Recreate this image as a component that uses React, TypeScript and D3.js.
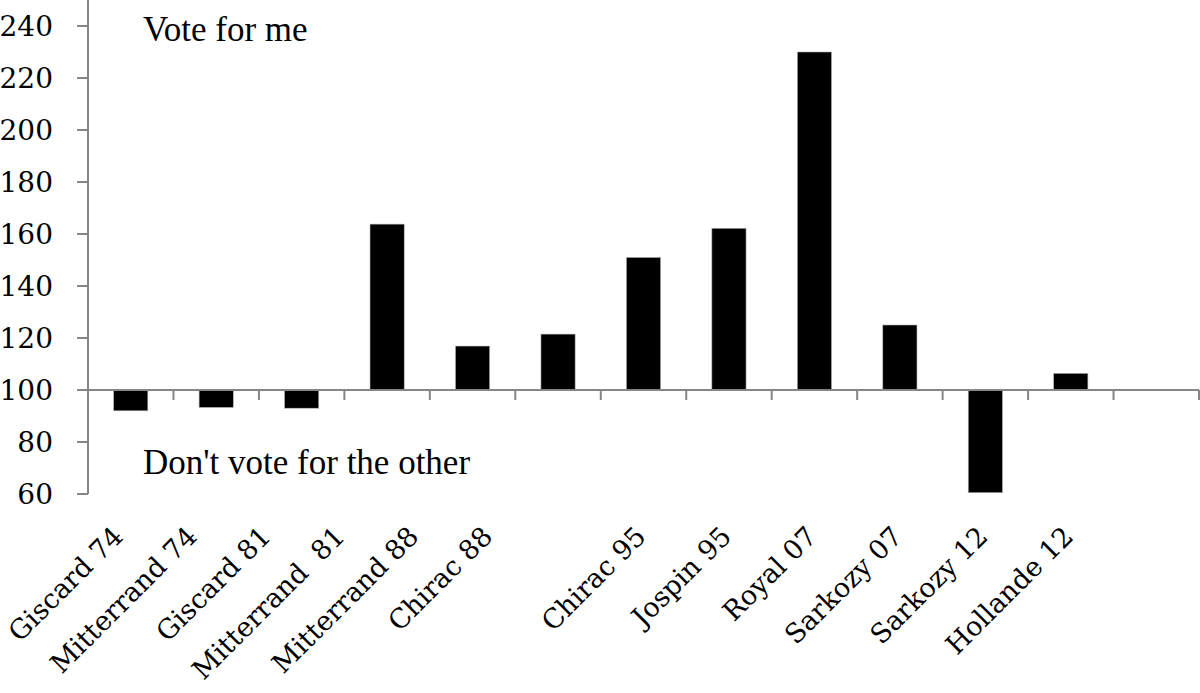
import * as d3 from 'd3';
import React from 'react';

const WIDTH = 1200;
const HEIGHT = 693;

// candidates, with one empty slot at the end of the axis
const candidates = [
  'Giscard 74',
  'Mitterrand 74',
  'Giscard 81',
  'Mitterrand  81',
  'Mitterrand 88',
  'Chirac 88',
  'Chirac 95',
  'Jospin 95',
  'Royal 07',
  'Sarkozy 07',
  'Sarkozy 12',
  'Hollande 12',
];
const values = [92.0, 93.3, 93.0, 163.8, 116.9, 121.5, 151.0, 162.2, 230.0, 125.0, 60.5, 106.4];
const yTicks = [60, 80, 100, 120, 140, 160, 180, 200, 220, 240];
const BASELINE = 100;

const AXIS = '#868686';
const SERIF = '"Liberation Serif", "Times New Roman", serif';
const TICK_FONT = '"DejaVu Serif", serif';

export default function App() {
  const slots = [...candidates, ''];

  const xScale = d3
    .scaleBand()
    .domain(slots.map((_, i) => String(i)))
    .range([88, 1199])
    .paddingInner(0.6)
    .paddingOuter(0.3);

  const yScale = d3.scaleLinear().domain([60, 240]).range([494, 26]);

  const step = xScale.step();
  const x0 = xScale.range()[0];
  const y100 = yScale(BASELINE);

  // the first six labels sit a little tighter than the bars in the original
  const tightLabels = d3
    .scaleLinear()
    .domain([0, 5])
    .range([x0 + step / 2 - 6, x0 + 5.5 * step - 64]);
  const labelX = (i: number) =>
    i < 6 ? tightLabels(i) : (xScale(String(i)) ?? 0) + xScale.bandwidth() / 2 + 4;

  const bars = values.map((v, i) => {
    const x = xScale(String(i)) ?? 0;
    const top = Math.min(yScale(v), y100);
    const h = Math.abs(yScale(v) - y100);
    return (
      <rect
        key={i}
        x={x}
        y={top}
        width={xScale.bandwidth()}
        height={h}
        fill="#000"
        stroke="#b0b0b0"
        strokeWidth={0.6}
      />
    );
  });

  const xTicks = slots.map((_, i) => {
    const x = x0 + (i + 1) * step;
    return <line key={i} x1={x} x2={x} y1={y100} y2={y100 + 10} stroke={AXIS} strokeWidth={2} />;
  });

  const yTickMarks = yTicks.map(t => (
    <g key={t}>
      <line x1={77} x2={88} y1={yScale(t)} y2={yScale(t)} stroke={AXIS} strokeWidth={2} />
      <text
        x={53}
        y={yScale(t)}
        textAnchor="end"
        dominantBaseline="central"
        fontSize={28}
        fontFamily={TICK_FONT}
        fill="#000"
      >
        {t}
      </text>
    </g>
  ));

  const xLabels = candidates.map((name, i) => {
    const x = labelX(i);
    const y = 538;
    return (
      <text
        key={i}
        x={x}
        y={y}
        textAnchor="end"
        fontSize={27}
        fontFamily={TICK_FONT}
        fill="#000"
        transform={`rotate(-45, ${x}, ${y})`}
        style={{ whiteSpace: 'pre' }}
      >
        {name}
      </text>
    );
  });

  return (
    <svg
      width={WIDTH}
      height={HEIGHT}
      style={{ position: 'absolute', left: 0, top: 0, background: '#fff' }}
    >
      {bars}
      {/* y axis */}
      <line x1={88} x2={88} y1={0} y2={494} stroke={AXIS} strokeWidth={2} />
      {yTickMarks}
      {/* x axis sits on the 100 line */}
      <line x1={88} x2={1199} y1={y100} y2={y100} stroke={AXIS} strokeWidth={2} />
      {xTicks}
      {xLabels}
      <text x={143} y={41} fontSize={35} fontFamily={SERIF} fill="#000">
        Vote for me
      </text>
      <text x={143} y={474} fontSize={35} fontFamily={SERIF} fill="#000">
        Don't vote for the other
      </text>
    </svg>
  );
}
